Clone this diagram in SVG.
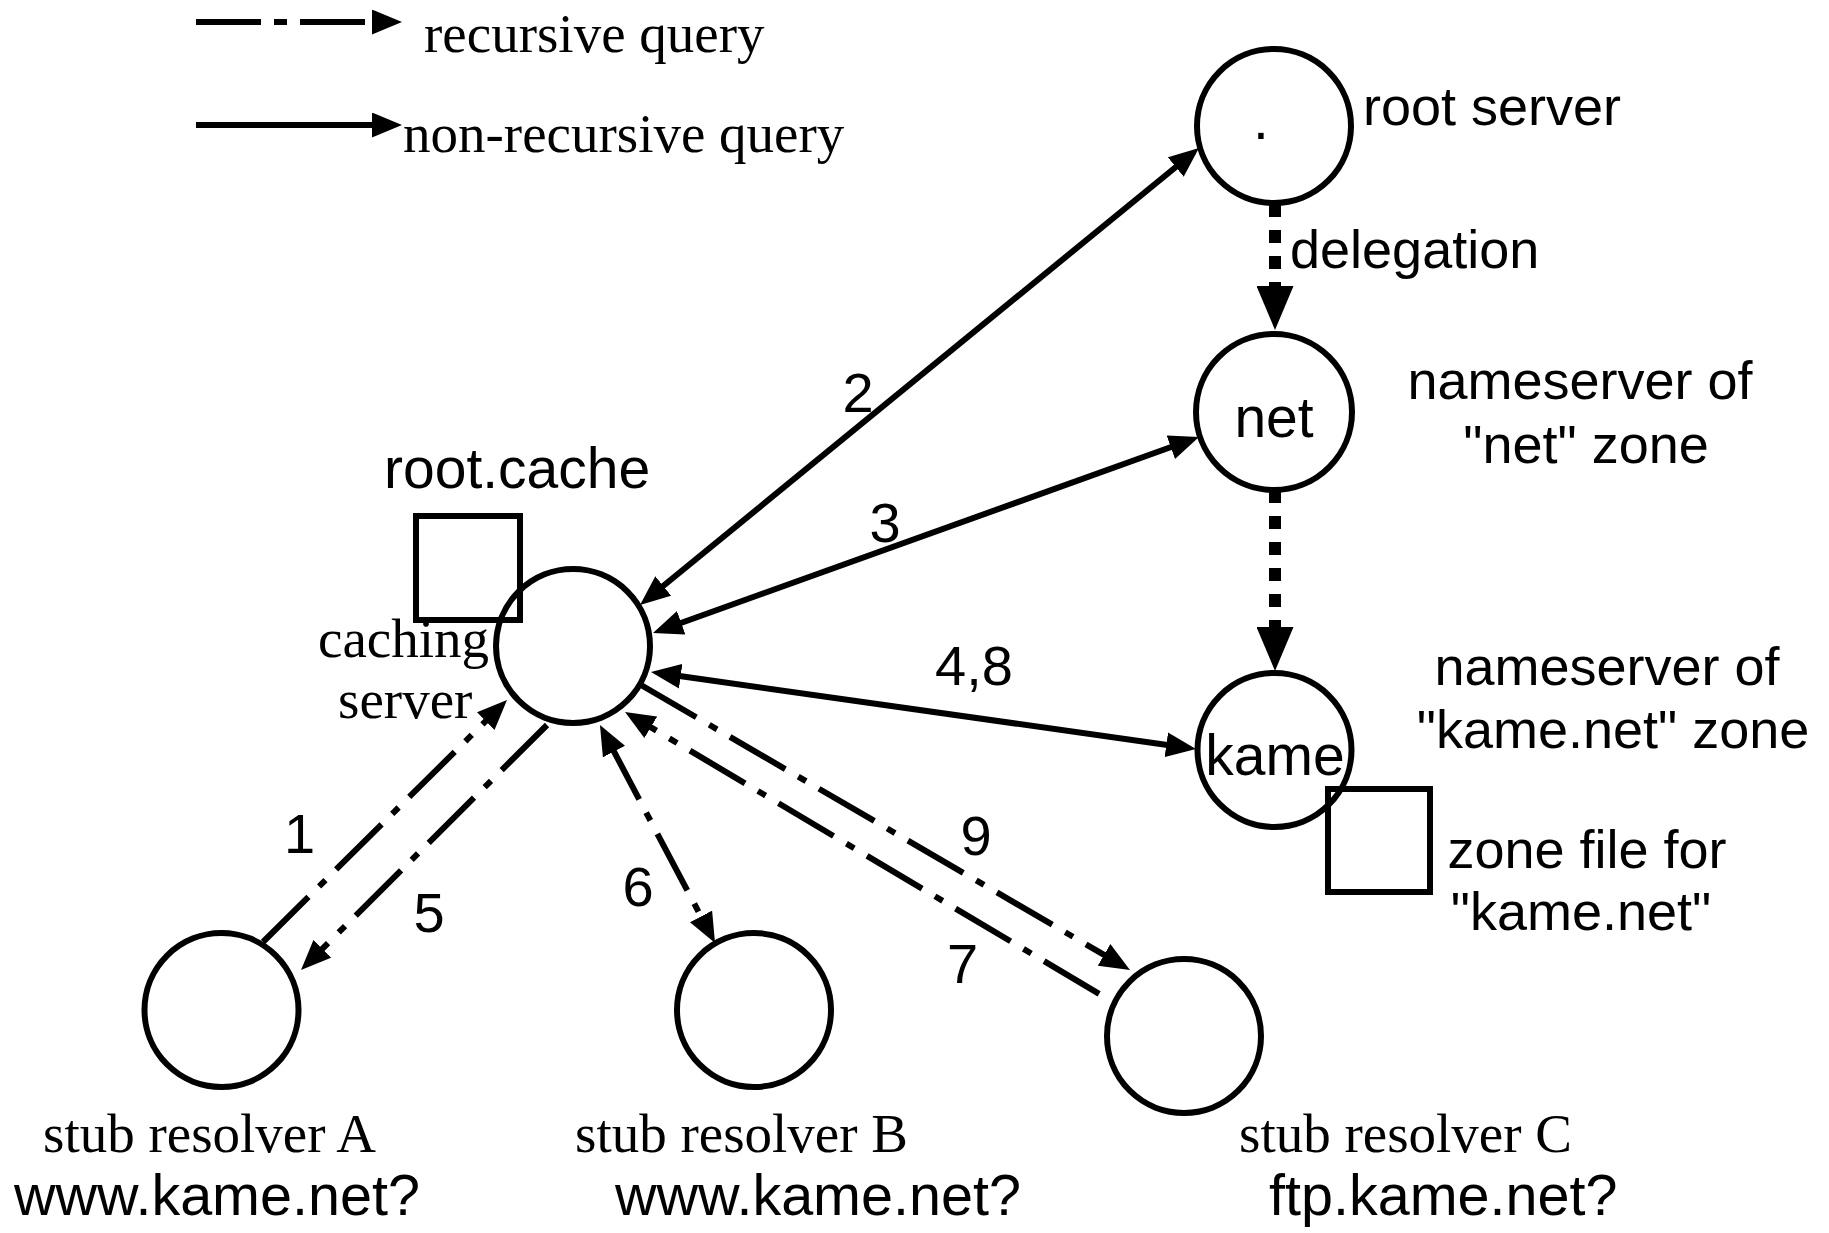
<svg xmlns="http://www.w3.org/2000/svg" width="1829" height="1233" viewBox="0 0 1829 1233">
<defs>
<style>
.node{fill:none;stroke:#000;stroke-width:6}
.sans{font-family:"Liberation Sans",Arial,sans-serif;fill:#000}
.serif{font-family:"Liberation Serif","Times New Roman",serif;fill:#000;font-size:55px}
.solid{fill:none;stroke:#000;stroke-width:6}
.dashdot{fill:none;stroke:#000;stroke-width:6;stroke-dasharray:64 15 9 15}
.deleg{fill:none;stroke:#000;stroke-width:12;stroke-dasharray:13 13}
.lbl{font-size:54px}
.num{font-size:56px;text-anchor:middle}
.mid{text-anchor:middle}
</style>
<marker id="ah" markerUnits="userSpaceOnUse" markerWidth="30" markerHeight="25" refX="10" refY="12.5" orient="auto-start-reverse" viewBox="0 0 30 25"><path d="M0,0 L30,12.5 L0,25 z" fill="#000"/></marker>
<marker id="ahBig" markerUnits="userSpaceOnUse" markerWidth="44" markerHeight="37" refX="9" refY="18.5" orient="auto" viewBox="0 0 44 37"><path d="M0,0 L44,18.5 L0,37 z" fill="#000"/></marker>
</defs>
<rect width="1829" height="1233" fill="#fff"/>

<g id="legend">
<line class="dashdot" x1="196" y1="22" x2="382" y2="22" style="stroke-dasharray:65 13 13 13" marker-end="url(#ah)"/>
<text class="serif" x="424" y="52">recursive query</text>
<line class="solid" x1="196" y1="125" x2="382" y2="125" marker-end="url(#ah)"/>
<text class="serif" x="403" y="152">non-recursive query</text>
</g>

<g id="connectors">
<line class="deleg" x1="1275" y1="204" x2="1275" y2="295" marker-end="url(#ahBig)"/>
<line class="deleg" x1="1275" y1="490" x2="1275" y2="636" marker-end="url(#ahBig)"/>
<line class="solid" x1="655.5" y1="592.3" x2="1183.5" y2="160.7" marker-start="url(#ah)" marker-end="url(#ah)"/>
<line class="solid" x1="671.8" y1="626.2" x2="1180.2" y2="443.8" marker-start="url(#ah)" marker-end="url(#ah)"/>
<line class="solid" x1="670.8" y1="674.8" x2="1176.2" y2="746.2" marker-start="url(#ah)" marker-end="url(#ah)"/>
<line class="dashdot" x1="263" y1="942" x2="492.8" y2="714.1" marker-end="url(#ah)"/>
<line class="dashdot" x1="547" y1="725" x2="315.2" y2="955.9" marker-end="url(#ah)"/>
<line class="dashdot" x1="609.3" y1="742.7" x2="705.7" y2="925.3" marker-start="url(#ah)" marker-end="url(#ah)"/>
<line class="dashdot" x1="1106" y1="998" x2="642.2" y2="722.2" style="stroke-dashoffset:-8" marker-end="url(#ah)"/>
<line class="dashdot" x1="641" y1="685" x2="1112.7" y2="959.9" marker-end="url(#ah)"/>
<text class="sans lbl" x="1290" y="268">delegation</text>
<text class="sans num" x="858" y="412">2</text>
<text class="sans num" x="885" y="542">3</text>
<text class="sans" x="935" y="685" font-size="56">4,8</text>
<text class="sans num" x="299.5" y="853">1</text>
<text class="sans num" x="429" y="932">5</text>
<text class="sans num" x="638" y="906">6</text>
<text class="sans num" x="962.5" y="983">7</text>
<text class="sans num" x="976" y="855">9</text>
</g>

<g id="root-server">
<circle class="node" cx="1274" cy="126" r="77"/>
<text class="sans mid" x="1261" y="139" font-size="57">.</text>
<text class="sans lbl" x="1363" y="125">root server</text>
</g>

<g id="net-server">
<circle class="node" cx="1274" cy="412" r="78"/>
<text class="sans mid" x="1274" y="437" font-size="57">net</text>
<text class="sans lbl mid" x="1580" y="399">nameserver of</text>
<text class="sans lbl mid" x="1586" y="463">"net" zone</text>
</g>

<g id="kame-server">
<circle class="node" cx="1274.5" cy="750" r="77"/>
<text class="sans mid" x="1275" y="775" font-size="57">kame</text>
<text class="sans lbl mid" x="1607" y="685">nameserver of</text>
<text class="sans lbl mid" x="1613" y="748">"kame.net" zone</text>
</g>

<g id="zone-file">
<rect class="node" x="1328" y="789" width="102" height="103"/>
<text class="sans lbl mid" x="1587" y="868">zone file for</text>
<text class="sans lbl mid" x="1581" y="930">"kame.net"</text>
</g>

<g id="caching-server">
<circle class="node" cx="573" cy="646" r="77"/>
<text class="serif" x="318" y="657">caching</text>
<text class="serif" x="338" y="718">server</text>
</g>

<g id="root-cache">
<rect class="node" x="416" y="516" width="104" height="104"/>
<text class="sans" x="384" y="488" font-size="57">root.cache</text>
</g>

<g id="stub-a">
<circle class="node" cx="221.5" cy="1010" r="77"/>
<text class="serif" x="43" y="1152">stub resolver A</text>
<text class="sans" x="14" y="1215" font-size="57.5">www.kame.net?</text>
</g>

<g id="stub-b">
<circle class="node" cx="754" cy="1010" r="77"/>
<text class="serif" x="575" y="1152">stub resolver B</text>
<text class="sans" x="615" y="1215" font-size="57.5">www.kame.net?</text>
</g>

<g id="stub-c">
<circle class="node" cx="1184" cy="1036" r="77"/>
<text class="serif" x="1239" y="1152">stub resolver C</text>
<text class="sans" x="1269" y="1215" font-size="57.5">ftp.kame.net?</text>
</g>
</svg>
